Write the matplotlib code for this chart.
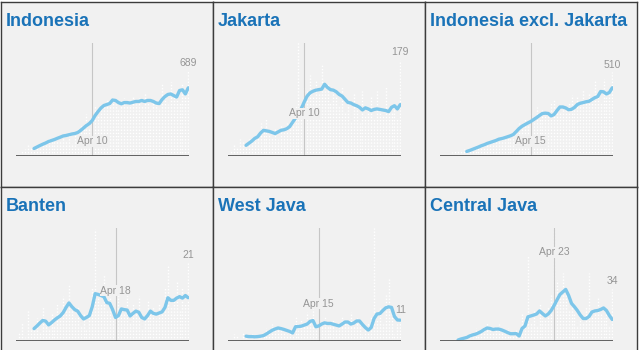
import matplotlib
matplotlib.use("Agg")
import matplotlib.pyplot as plt
import matplotlib.transforms as mtransforms
import numpy as np
import pandas as pd

plt.rcParams["font.family"] = ["Liberation Sans", "DejaVu Sans"]

# one point per day, Mar 15 .. May 13 2020
dates = pd.date_range("2020-03-15", "2020-05-13")

names = ["Indonesia", "Jakarta", "Indonesia excl. Jakarta",
         "Banten", "West Java", "Central Java"]

# daily new cases (the faint dotted bars)
daily_indonesia = [20, 17, 38, 55, 82, 60,
                   70, 65, 105, 104, 103, 150, 110, 130, 130, 115,
                   150, 115, 195, 105, 180, 220, 250, 220, 335, 220,
                   330, 400, 320, 380, 410, 460, 420, 470, 420, 380,
                   430, 470, 400, 440, 480, 420, 470, 400, 520, 430,
                   380, 450, 420, 390, 590, 480, 420, 600, 480, 500,
                   430, 590, 520, 689]
daily_jakarta = [5, 10, 20, 15, 30, 25,
                 20, 30, 25, 40, 35, 60, 45, 70, 40, 35,
                 50, 30, 55, 45, 60, 50, 80, 95, 211, 100,
                 130, 120, 150, 110, 140, 115, 170, 120, 135, 100,
                 125, 110, 95, 130, 80, 100, 65, 115, 90, 60,
                 120, 75, 95, 110, 70, 120, 85, 75, 130, 90,
                 80, 100, 70, 179]
daily_excl = [0, 0, 0, 10, 20, 25, 30, 35, 40,
              30, 40, 50, 45, 60, 65, 70, 80, 90, 85,
              100, 95, 120, 100, 110, 130, 120, 160, 200, 170,
              230, 190, 260, 210, 300, 230, 280, 250, 240, 330,
              350, 280, 260, 310, 290, 330, 370, 300, 360, 320,
              400, 330, 380, 340, 460, 390, 330, 470, 380, 400,
              510]
daily_banten = [0, 2, 5, 1, 8, 3,
                4, 6, 2, 9, 5, 3, 7, 4, 10, 6,
                12, 8, 15, 10, 6, 9, 4, 7, 3, 8,
                14, 30, 12, 10, 18, 8, 12, 6, 4, 15,
                9, 7, 13, 5, 10, 8, 12, 3, 6, 11,
                7, 9, 6, 10, 8, 14, 20, 9, 12, 16,
                8, 14, 10, 21]
daily_westjava = [1, 0, 3, 2, 1, 4,
                  2, 1, 3, 2, 1, 3, 4, 6, 5, 8,
                  7, 5, 6, 4, 3, 5, 2, 12, 8, 10,
                  9, 14, 11, 20, 6, 5, 9, 12, 7, 8,
                  10, 6, 7, 12, 9, 10, 14, 7, 11, 8,
                  3, 6, 9, 12, 55, 10, 16, 8, 22, 30,
                  14, 3, 8, 11]
daily_centraljava = [0, 0, 0, 1, 0, 0,
                     0, 2, 1, 3, 5, 2, 8, 4, 6, 10,
                     12, 7, 5, 9, 11, 6, 4, 8, 3, 5,
                     7, 2, 18, 15, 56, 12, 20, 10, 25, 15,
                     14, 22, 30, 75, 40, 28, 45, 35, 20, 25,
                     18, 10, 14, 12, 22, 45, 16, 20, 28, 18,
                     15, 20, 10, 34]

# 7-day average line (ends on May 13)
avg_indonesia = [57, 69, 81, 92, 102, 114, 122, 130, 140, 149,
                 159, 163, 169, 175, 179, 187, 204, 224, 244, 260,
                 285, 326, 358, 387, 407, 415, 423, 452, 448, 431,
                 421, 431, 431, 427, 434, 440, 440, 448, 440, 448,
                 448, 440, 427, 423, 456, 480, 497, 501, 488, 476,
                 529, 535, 501, 551]
avg_jakarta = [19, 23, 27, 32, 35, 42, 47, 46, 45, 43,
               41, 44, 47, 48, 50, 54, 62, 70, 78, 88,
               100, 111, 117, 120, 122, 123, 124, 133, 127, 123,
               122, 119, 114, 111, 105, 99, 98, 95, 93, 90,
               85, 89, 87, 84, 86, 87, 86, 85, 84, 82,
               90, 93, 87, 95]
avg_excl = [25, 31, 38, 45, 52, 60, 66, 74, 80, 86,
            92, 100, 104, 109, 115, 121, 129, 147, 166, 180,
            190, 200, 209, 221, 233, 246, 258, 260, 258, 243,
            252, 276, 298, 298, 292, 281, 284, 295, 313, 321,
            325, 330, 333, 344, 355, 362, 393, 391, 378, 387,
            416]
avg_banten = [3.2, 3.9, 4.7, 5.4, 5.2, 4.2, 4.8, 5.5, 6.1, 6.6,
              7.5, 8.9, 10.1, 9.1, 8.3, 7.9, 6.7, 5.8, 6.2, 6.7,
              9.1, 12.6, 12.4, 12.1, 11.8, 10.2, 10.0, 8.3, 6.2, 6.7,
              8.5, 8.3, 8.2, 6.6, 7.3, 7.9, 7.6, 6.2, 5.8, 6.7,
              7.9, 7.3, 7.1, 7.4, 7.7, 8.9, 11.5, 10.8, 10.8, 11.4,
              11.8, 11.4, 12.1, 11.5]
avg_westjava = [2.1, 1.9, 1.9, 1.8, 1.9, 2.1, 2.4, 3.2, 4.1, 5.0,
                5.6, 6.1, 5.8, 5.4, 4.9, 4.4, 3.7, 6.7, 6.8, 7.0,
                7.5, 8.0, 9.3, 9.7, 6.7, 7.1, 8.0, 8.6, 8.3, 8.3,
                7.9, 7.5, 7.1, 8.0, 9.0, 9.0, 8.0, 8.5, 9.5, 9.5,
                7.8, 6.3, 5.1, 6.3, 10.7, 12.9, 13.1, 14.6, 15.9, 16.4,
                16.1, 11.7, 10.0, 9.9]
avg_centraljava = [0.3, 1.0, 1.5, 2.0, 3.0, 3.7, 4.2, 5.0, 6.0, 7.3,
                   8.3, 8.0, 7.3, 7.6, 7.6, 7.0, 6.2, 5.3, 4.5, 4.5,
                   4.6, 3.0, 8.0, 9.6, 15.7, 16.3, 16.9, 17.6, 19.6, 17.9,
                   16.3, 17.6, 19.9, 23.2, 26.9, 30.5, 32.2, 33.9, 29.9, 24.6,
                   22.4, 19.9, 16.9, 14.6, 14.6, 15.9, 18.9, 19.6, 19.9, 20.6,
                   21.6, 19.9, 16.6, 13.9]

marker_dates = ["2020-04-10", "2020-04-10", "2020-04-15",
                "2020-04-18", "2020-04-15", "2020-04-23"]

dailies = [daily_indonesia, daily_jakarta, daily_excl,
           daily_banten, daily_westjava, daily_centraljava]
avgs = [avg_indonesia, avg_jakarta, avg_excl,
        avg_banten, avg_westjava, avg_centraljava]

# layout only: y-axis top per panel and height of the date label (axes fraction)
y_tops = [920, 211, 694, 30.4, 55, 75]
label_y = [0.124, 0.372, 0.124, 0.442, 0.327, 0.779]

W, H = 640, 350
BG = "#f1f1f1"
BLUE = "#1a73b8"
LINE = "#7dc6ea"
GREY = "#959595"


def px_box(left, top, width, height):
    return [left / W, 1 - (top + height) / H, width / W, height / H]


fig = plt.figure(figsize=(6.4, 3.5), dpi=100)
fig.patch.set_facecolor("white")
days = np.arange(len(dates))

for i, name in enumerate(names):
    col, row = i % 3, i // 3
    pl = 1 + 212 * col
    pt = 2 + 185 * row

    # panel background + border
    bg = fig.add_axes(px_box(pl, pt, 212, 185))
    bg.set_facecolor(BG)
    bg.set_xticks([])
    bg.set_yticks([])
    for s in bg.spines.values():
        s.set_color("#3c3c3c")
        s.set_linewidth(1)

    fig.text((pl + 5) / W, 1 - (pt + 24) / H, name, color=BLUE,
             fontsize=13, fontweight="bold", va="baseline", ha="left")

    ax = fig.add_axes(px_box(pl + 15, pt + 40.5, 173, 113))
    ax.patch.set_alpha(0)
    ax.set_axis_off()

    daily = dailies[i]
    avg = avgs[i]
    m = dates.get_loc(pd.Timestamp(marker_dates[i]))

    ax.vlines(days, 0, daily, colors="white", linestyles=(0, (1, 1.3)),
              lw=1.0, zorder=1)
    ax.axvline(m, color="#c6c6c6", lw=0.8, zorder=2)
    ax.plot(days[len(days) - len(avg):], avg, color=LINE, lw=2.4,
            solid_capstyle="round", solid_joinstyle="round", zorder=3)
    ax.axhline(0, color="#555555", lw=1.3, zorder=4)

    trans = mtransforms.blended_transform_factory(ax.transData, ax.transAxes)
    d = dates[m]
    ax.text(m, label_y[i], f"{d:%b} {d.day}", transform=trans, ha="center",
            va="center", fontsize=7.5, color=GREY, zorder=5,
            bbox=dict(fc=BG, ec="none", pad=0.3))

    ax.annotate(f"{daily[-1]:g}", (days[-1], daily[-1]), xytext=(0, 2),
                textcoords="offset points", ha="center", va="bottom",
                fontsize=7.5, color=GREY, zorder=5)

    ax.set_xlim(-0.2, 59.25)
    ax.set_ylim(0, y_tops[i])

fig.savefig("out.png", dpi=100)
